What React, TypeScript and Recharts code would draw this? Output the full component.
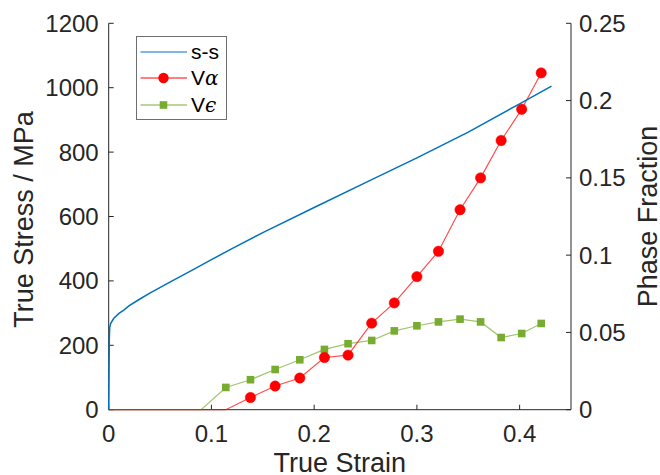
import React from 'react';
import { LineChart, Line, XAxis, YAxis, Legend } from 'recharts';

// stress-strain curve (left axis)
const ssStrain = [0, 0.0003, 0.0006, 0.001, 0.002, 0.005, 0.01, 0.015, 0.02, 0.03, 0.04, 0.06, 0.08, 0.1, 0.12, 0.15, 0.2, 0.25, 0.3, 0.35, 0.4, 0.431];
const ssStress = [0, 120, 220, 256, 268, 284, 299, 310, 323, 343, 362, 397, 431, 466, 500, 550, 628, 705, 782, 862, 950, 1005];

// phase fractions (right axis)
const phaseStrain = [0, 0.09, 0.114, 0.138, 0.162, 0.186, 0.21, 0.233, 0.256, 0.278, 0.3, 0.321, 0.342, 0.362, 0.382, 0.402, 0.421];
const alphaFrac = [0, 0, 0, 0.0079, 0.0153, 0.0205, 0.0338, 0.0353, 0.056, 0.0691, 0.0861, 0.1025, 0.1294, 0.15, 0.1742, 0.1944, 0.2179];
const epsFrac = [0, 0, 0.0144, 0.0194, 0.026, 0.0323, 0.039, 0.0427, 0.0448, 0.051, 0.0543, 0.0568, 0.0586, 0.0568, 0.0467, 0.0493, 0.0558];

const xTicks = [0, 0.1, 0.2, 0.3, 0.4];
const stressTicks = [0, 200, 400, 600, 800, 1000, 1200];
const fracTicks = [0, 0.05, 0.1, 0.15, 0.2, 0.25];

const ssData = ssStrain.map((s, i) => ({ strain: s, stress: ssStress[i] }));
const phaseData = phaseStrain.map((s, i) => ({ strain: s, va: alphaFrac[i], ve: epsFrac[i] }));

const FONT = '"Liberation Sans", Arial, Helvetica, sans-serif';
const INK = '#262626';
const BLUE = '#0072BD';
const RED = '#FF0000';
const GREEN = '#77AC30';

const tickStyle = { fontSize: 24, fill: INK, fontFamily: FONT };
const labelStyle = { fontSize: 27, fill: INK, fontFamily: FONT };

const circleDot = (props: any) => {
  const { cx, cy, payload, index } = props;
  if (!payload || payload.va <= 0) return <g key={`a${index}`} />;
  return <circle key={`a${index}`} cx={cx} cy={cy} r={5.2} fill={RED} stroke={RED} strokeWidth={0.5} />;
};

const squareDot = (props: any) => {
  const { cx, cy, payload, index } = props;
  if (!payload || payload.ve <= 0) return <g key={`e${index}`} />;
  return <rect key={`e${index}`} x={cx - 3.8} y={cy - 3.8} width={7.6} height={7.6} fill={GREEN} />;
};

const leftLabel = (props: any) => {
  const { x, y, height } = props.viewBox;
  const cx = x + 23.5;
  const cy = y + height / 2 + 3;
  return (
    <text x={cx} y={cy} dy="0.355em" textAnchor="middle" transform={`rotate(-90, ${cx}, ${cy})`} style={labelStyle}>
      True Stress / MPa
    </text>
  );
};

const rightLabel = (props: any) => {
  const { x, y, height } = props.viewBox;
  const cx = x + 76;
  const cy = y + height / 2;
  return (
    <text x={cx} y={cy} dy="0.355em" textAnchor="middle" transform={`rotate(-90, ${cx}, ${cy})`} style={labelStyle}>
      Phase Fraction
    </text>
  );
};

const bottomLabel = (props: any) => {
  const { x, y, width } = props.viewBox;
  return (
    <text x={x + width / 2} y={y + 53} dy="0.355em" textAnchor="middle" style={labelStyle}>
      True Strain
    </text>
  );
};

const legendText = { fontSize: 21, fill: '#000', fontFamily: FONT };
const greekText = { fontFamily: '"DejaVu Serif", serif', fontStyle: 'italic', fontSize: 20 };

const renderLegend = () => (
  <svg width={92} height={86} style={{ display: 'block' }}>
    <rect x={0.5} y={0.5} width={90} height={83} fill="#fff" stroke="#6e6e6e" strokeWidth={1} />
    <line x1={4.5} x2={51} y1={16} y2={16} stroke={BLUE} strokeWidth={1.2} />
    <text x={55} y={16} dy="0.355em" style={legendText}>s-s</text>
    <line x1={4.5} x2={51} y1={42} y2={42} stroke={RED} strokeWidth={1} />
    <circle cx={27.5} cy={42} r={5.2} fill={RED} />
    <text x={55} y={42} dy="0.355em" style={legendText}>
      V<tspan style={greekText}>α</tspan>
    </text>
    <line x1={4.5} x2={51} y1={69} y2={69} stroke={GREEN} strokeWidth={1} />
    <rect x={23.7} y={65.2} width={7.6} height={7.6} fill={GREEN} />
    <text x={55} y={69} dy="0.355em" style={legendText}>
      V<tspan style={greekText}>ϵ</tspan>
    </text>
  </svg>
);

export default function App() {
  return (
    <div style={{ position: 'absolute', left: 0, top: 0, background: '#fff' }}>
      <LineChart width={660} height={475} margin={{ top: 23.3, right: 0, bottom: 0, left: 0 }}>
        <XAxis
          xAxisId="x"
          type="number"
          dataKey="strain"
          domain={[0, 0.45]}
          ticks={xTicks}
          height={65.3}
          stroke={INK}
          tickSize={-5}
          tickMargin={20}
          tick={tickStyle}
          label={{ content: bottomLabel }}
        />
        <XAxis
          xAxisId="top"
          orientation="top"
          type="number"
          dataKey="strain"
          domain={[0, 0.45]}
          ticks={xTicks}
          height={0}
          stroke={INK}
          tickSize={-5}
          tick={false}
        />
        <YAxis
          yAxisId="left"
          type="number"
          domain={[0, 1200]}
          ticks={stressTicks}
          width={108.7}
          stroke={INK}
          tickSize={-5}
          tickMargin={15}
          tick={tickStyle}
          label={{ content: leftLabel }}
        />
        <YAxis
          yAxisId="right"
          orientation="right"
          type="number"
          domain={[0, 0.25]}
          ticks={fracTicks}
          width={89}
          stroke={INK}
          tickSize={-5}
          tickMargin={13}
          tick={{ ...tickStyle, textAnchor: 'start' }}
          label={{ content: rightLabel }}
        />
        <Legend
          layout="vertical"
          align="center"
          verticalAlign="middle"
          content={renderLegend}
          wrapperStyle={{ left: 135.5, top: 35.5, width: 92, height: 86 }}
        />
        <Line
          xAxisId="x"
          yAxisId="right"
          data={phaseData}
          dataKey="ve"
          type="linear"
          stroke={GREEN}
          strokeOpacity={0.7}
          strokeWidth={1.2}
          dot={squareDot}
          activeDot={false}
          zIndex={600}
          isAnimationActive={false}
        />
        <Line
          xAxisId="x"
          yAxisId="right"
          data={phaseData}
          dataKey="va"
          type="linear"
          stroke={RED}
          strokeOpacity={0.7}
          strokeWidth={1.2}
          dot={circleDot}
          activeDot={false}
          zIndex={600}
          isAnimationActive={false}
        />
        <Line
          xAxisId="x"
          yAxisId="left"
          data={ssData}
          dataKey="stress"
          type="linear"
          stroke={BLUE}
          strokeWidth={1.5}
          dot={false}
          activeDot={false}
          zIndex={600}
          isAnimationActive={false}
        />
      </LineChart>
    </div>
  );
}
